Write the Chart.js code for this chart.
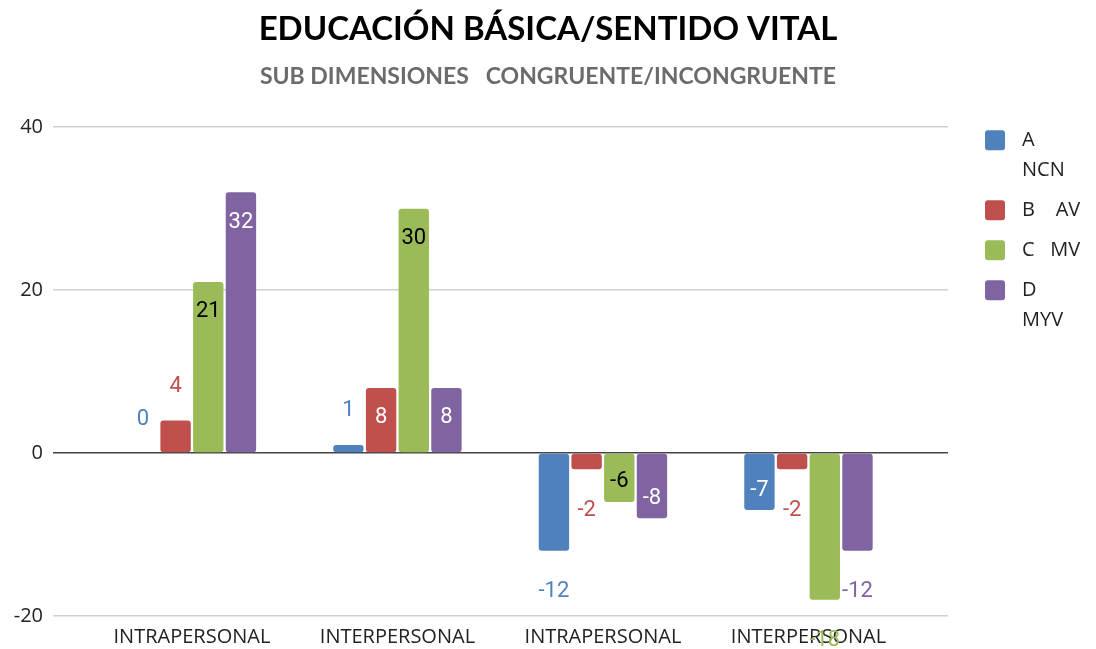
<!DOCTYPE html>
<html>
<head>
<meta charset="utf-8">
<script src="https://cdn.jsdelivr.net/npm/chart.js@4.4.1/dist/chart.umd.min.js"></script>
<style>
  html, body { margin: 0; padding: 0; background: #fff; }
  #wrap { width: 1096px; height: 649px; }
</style>
</head>
<body>
<div id="wrap"><canvas id="chart"></canvas></div>
<script>
const categories = ['INTRAPERSONAL', 'INTERPERSONAL', 'INTRAPERSONAL', 'INTERPERSONAL'];
const seriesNames = [['A', 'NCN'], ['B    AV'], ['C   MV'], ['D', 'MYV']];
const valuesA = [0, 1, -12, -7];
const valuesB = [4, 8, -2, -2];
const valuesC = [21, 30, -6, -18];
const valuesD = [32, 8, -8, -12];
const yTicks = [-20, 0, 20, 40];

const colors = ['#4f81bd', '#c0504d', '#9bbb59', '#8064a2'];
// which value labels sit inside the bar end, the rest go just past it
const labelInside = [
  [false, false, false, true],
  [false, true, false, false],
  [true, true, true, false],
  [true, true, true, false]
];
const insideText = ['#fff', '#fff', '#000', '#fff'];

const series = [valuesA, valuesB, valuesC, valuesD];

const valueLabels = {
  id: 'valueLabels',
  afterDatasetsDraw(chart) {
    const ctx = chart.ctx;
    ctx.save();
    ctx.font = '22px Roboto';
    ctx.textAlign = 'center';
    ctx.textBaseline = 'middle';
    series.forEach((vals, di) => {
      chart.getDatasetMeta(di).data.forEach((bar, i) => {
        const v = vals[i];
        const inside = labelInside[di][i];
        let y;
        if (v >= 0) y = inside ? bar.y + 30 : bar.y - 34;
        else y = inside ? bar.y - 20 : bar.y + 41;
        ctx.fillStyle = inside ? insideText[di] : colors[di];
        ctx.fillText(String(v), bar.x, y);
      });
    });
    ctx.restore();
  }
};

const sideLegend = {
  id: 'sideLegend',
  afterDraw(chart) {
    const ctx = chart.ctx;
    const x = chart.chartArea.right + 37;
    let y = chart.chartArea.top + 3;
    ctx.save();
    ctx.font = '20px "Open Sans"';
    ctx.textBaseline = 'middle';
    seriesNames.forEach((lines, di) => {
      ctx.fillStyle = colors[di];
      ctx.beginPath();
      ctx.roundRect(x, y, 20, 20, 3);
      ctx.fill();
      ctx.fillStyle = '#222';
      lines.forEach((line, li) => ctx.fillText(line, x + 37, y + 10 + li * 30));
      y += lines.length * 30 + 10;
    });
    ctx.restore();
  }
};

new Chart(document.getElementById('chart'), {
  type: 'bar',
  data: {
    datasets: series.map((vals, di) => ({
      label: seriesNames[di].join(' '),
      data: vals.map((v, i) => ({ x: i, y: v })),
      backgroundColor: colors[di],
      borderRadius: 3,
      borderSkipped: false,
      categoryPercentage: 0.636,
      barPercentage: 0.93
    }))
  },
  options: {
    responsive: true,
    maintainAspectRatio: false,
    animation: false,
    layout: { padding: { top: 9, right: 0, bottom: 0, left: 0 } },
    plugins: {
      legend: { display: false },
      tooltip: { enabled: false },
      title: {
        display: true,
        text: 'EDUCACIÓN BÁSICA/SENTIDO VITAL',
        color: '#000',
        font: { family: 'Lato', size: 33, weight: 'bold', lineHeight: 1.2 },
        padding: { top: 1, bottom: 0 }
      },
      subtitle: {
        display: true,
        text: 'SUB DIMENSIONES   CONGRUENTE/INCONGRUENTE',
        color: '#6b6b6b',
        font: { family: 'Lato', size: 23, weight: 'bold', lineHeight: 1.2 },
        padding: { top: 13, bottom: 37 }
      }
    },
    scales: {
      x: {
        type: 'linear',
        offset: false,
        min: -0.676,
        max: 3.679,
        afterBuildTicks: s => { s.ticks = categories.map((c, i) => ({ value: i })); },
        afterFit: s => { s.height = 33; },
        grid: { display: false, drawTicks: false },
        border: { display: false },
        ticks: {
          autoSkip: false,
          maxRotation: 0,
          padding: 9,
          color: '#222',
          font: { family: 'Open Sans', size: 20 },
          callback: v => categories[v]
        }
      },
      y: {
        min: -20,
        max: 40,
        afterBuildTicks: s => { s.ticks = yTicks.map(v => ({ value: v })); },
        afterFit: s => { s.width = 53; },
        border: { display: false },
        grid: {
          drawTicks: false,
          color: c => c.tick.value === 0 ? '#444' : '#d0d0d0',
          lineWidth: 1.5
        },
        ticks: {
          padding: 10,
          color: '#222',
          font: { family: 'Open Sans', size: 20 }
        }
      },
      // empty strip on the right that leaves room for the legend
      side: {
        position: 'right',
        display: true,
        afterFit: s => { s.width = 148; },
        grid: { display: false },
        border: { display: false },
        ticks: { display: false }
      }
    }
  },
  plugins: [valueLabels, sideLegend]
});
</script>
</body>
</html>
